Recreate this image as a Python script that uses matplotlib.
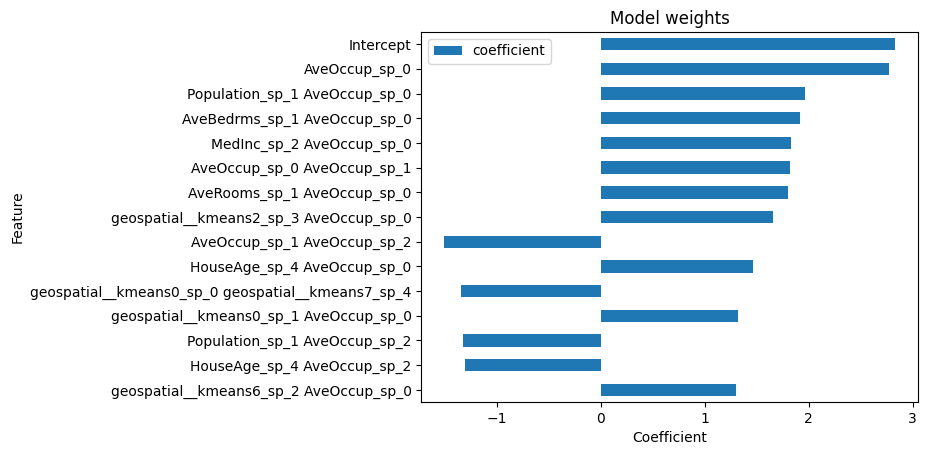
import matplotlib
matplotlib.use("Agg")
import matplotlib.pyplot as plt
import pandas as pd

# ----- data -----
features = [
    "Intercept",
    "AveOccup_sp_0",
    "Population_sp_1 AveOccup_sp_0",
    "AveBedrms_sp_1 AveOccup_sp_0",
    "MedInc_sp_2 AveOccup_sp_0",
    "AveOccup_sp_0 AveOccup_sp_1",
    "AveRooms_sp_1 AveOccup_sp_0",
    "geospatial__kmeans2_sp_3 AveOccup_sp_0",
    "AveOccup_sp_1 AveOccup_sp_2",
    "HouseAge_sp_4 AveOccup_sp_0",
    "geospatial__kmeans0_sp_0 geospatial__kmeans7_sp_4",
    "geospatial__kmeans0_sp_1 AveOccup_sp_0",
    "Population_sp_1 AveOccup_sp_2",
    "HouseAge_sp_4 AveOccup_sp_2",
    "geospatial__kmeans6_sp_2 AveOccup_sp_0",
]
coefficient = [2.83, 2.77, 1.96, 1.92, 1.83, 1.82, 1.80, 1.66, -1.51, 1.46,
               -1.35, 1.32, -1.33, -1.31, 1.30]

df = pd.DataFrame({"coefficient": coefficient}, index=features)

fig, ax = plt.subplots(figsize=(9.26, 4.55), dpi=100)
df.plot.barh(ax=ax, color="#1f77b4")
ax.invert_yaxis()
ax.set_title("Model weights")
ax.set_xlabel("Coefficient")
ax.set_ylabel("Feature")
ax.legend(loc="upper left")

plt.subplots_adjust(left=0.455, right=0.991, top=0.930, bottom=0.116)
fig.savefig("out.png", dpi=100)
